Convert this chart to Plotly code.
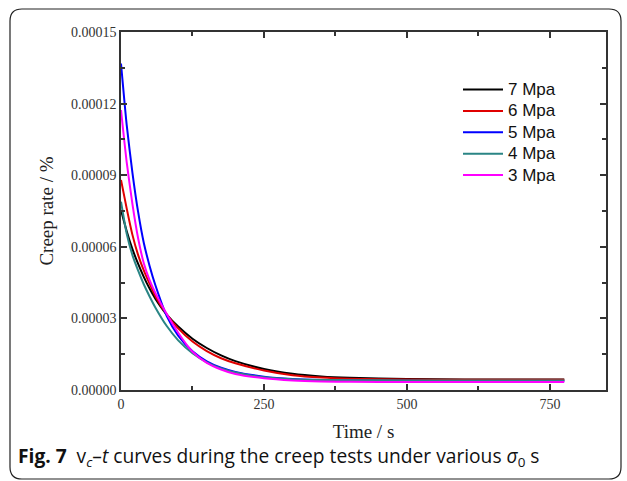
import plotly.graph_objects as go

# time (s)
time_s = [0, 10, 20, 30, 40, 50, 60, 80, 100, 125, 150, 175, 200, 250, 300, 350, 400, 500, 600, 700, 775]
# creep rate in units of 1e-6 %
rate_7 = [75.4, 66.5, 59.0, 52.8, 47.3, 42.5, 38.3, 31.6, 26.6, 21.5, 17.6, 14.5, 12.1, 8.8, 6.8, 5.7, 5.1, 4.6, 4.45, 4.4, 4.4]
rate_6 = [88.0, 76.0, 65.0, 56.5, 50.0, 44.5, 39.4, 31.6, 25.8, 20.3, 16.3, 13.3, 11.2, 8.2, 6.2, 5.2, 4.7, 4.4, 4.3, 4.3, 4.3]
rate_5 = [136.8, 111.0, 91.0, 74.5, 61.5, 52.0, 44.0, 31.0, 22.8, 16.2, 12.0, 9.3, 7.6, 5.6, 4.6, 4.2, 4.0, 3.85, 3.8, 3.8, 3.8]
rate_4 = [78.9, 65.5, 56.5, 50.0, 44.2, 39.2, 34.6, 26.8, 20.8, 15.4, 11.6, 9.0, 7.3, 5.3, 4.5, 4.2, 4.1, 4.0, 4.0, 4.0, 4.0]
rate_3 = [117.3, 95.4, 77.9, 63.5, 53.0, 46.0, 40.7, 31.8, 24.0, 16.0, 11.4, 8.6, 6.7, 4.9, 4.0, 3.6, 3.45, 3.35, 3.3, 3.3, 3.3]

series_names = ["7 Mpa", "6 Mpa", "5 Mpa", "4 Mpa", "3 Mpa"]
series_vals = [rate_7, rate_6, rate_5, rate_4, rate_3]
series_colors = ["#000000", "#e00000", "#0000ff", "#2a8585", "#ff00ff"]

W, H = 627, 481
L, R, T, B = 121, 606, 32, 390

def px2paper(x, y):
    return (x - L) / (R - L), (B - y) / (B - T)

fig = go.Figure()
for name, vals, col in zip(series_names, series_vals, series_colors):
    fig.add_trace(go.Scatter(
        x=time_s, y=[v * 1e-6 for v in vals], mode="lines", name=name,
        line=dict(color=col, width=2, shape="spline", smoothing=0.6),
        showlegend=False,
    ))

# legend drawn as line samples + labels (tighter rows than plotly's legend)
leg_x0, leg_x1, leg_text_x = 463, 503, 506
leg_y0, leg_dy = 89.5, 21.4
for i, (name, col) in enumerate(zip(series_names, series_colors)):
    yy = leg_y0 + i * leg_dy
    ax0, ay = px2paper(leg_x0, yy)
    ax1, _ = px2paper(leg_x1, yy)
    fig.add_shape(type="line", xref="paper", yref="paper", x0=ax0, x1=ax1, y0=ay, y1=ay,
                  line=dict(color=col, width=2))
    tx, _ = px2paper(leg_text_x, yy)
    fig.add_annotation(x=tx, y=ay, xref="paper", yref="paper", xanchor="left", yanchor="middle",
                       showarrow=False, text=name,
                       font=dict(family="Liberation Sans", size=17, color="#111111"))

# rounded outer frame
x0, y0, x1, y1, r = 10, 9, 621, 479, 12
def P(x, y):
    px, py = px2paper(x, y)
    return f"{px:.5f},{py:.5f}"
path = (f"M {P(x0 + r, y0)} L {P(x1 - r, y0)} Q {P(x1, y0)} {P(x1, y0 + r)} "
        f"L {P(x1, y1 - r)} Q {P(x1, y1)} {P(x1 - r, y1)} "
        f"L {P(x0 + r, y1)} Q {P(x0, y1)} {P(x0, y1 - r)} "
        f"L {P(x0, y0 + r)} Q {P(x0, y0)} {P(x0 + r, y0)} Z")
fig.add_shape(type="path", path=path, xref="paper", yref="paper",
              line=dict(color="#222222", width=1.2), layer="below")

cx, cy = px2paper(16, 457)
fig.add_annotation(
    x=cx, y=cy, xref="paper", yref="paper", xanchor="left", yanchor="middle",
    showarrow=False,
    text="<b>Fig. 7</b>  v<sub><i>c</i></sub>–<i>t</i> curves during the creep tests under various <i>σ</i><sub>0</sub> s",
    font=dict(family="Open Sans", size=19.2, color="#111111"),
)

axis_common = dict(
    showline=True, linecolor="#333333", linewidth=1.5, mirror="allticks",
    ticks="inside", ticklen=6, tickwidth=1.5, tickcolor="#333333",
    showgrid=False, zeroline=False,
    tickfont=dict(family="Liberation Serif", size=14, color="#333333"),
)

fig.update_xaxes(
    range=[0, 848], tick0=0, dtick=250,
    minor=dict(ticks="inside", ticklen=4, tickwidth=1.5, tickcolor="#333333", dtick=125, tick0=0),
    title=dict(text="Time / s", font=dict(family="Liberation Serif", size=19, color="#222222"), standoff=14),
    **axis_common,
)
fig.update_yaxes(
    range=[0, 0.00015], tick0=0, dtick=0.00003, tickformat=".5f",
    minor=dict(ticks="inside", ticklen=4, tickwidth=1.5, tickcolor="#333333", dtick=0.000015, tick0=0),
    title=dict(text="Creep rate / %", font=dict(family="Liberation Serif", size=19, color="#222222"), standoff=12),
    **axis_common,
)

fig.update_layout(
    width=W, height=H,
    margin=dict(l=L, r=W - R, t=T, b=H - B),
    paper_bgcolor="white", plot_bgcolor="white",
    showlegend=False,
)

fig.write_html("out.html")
